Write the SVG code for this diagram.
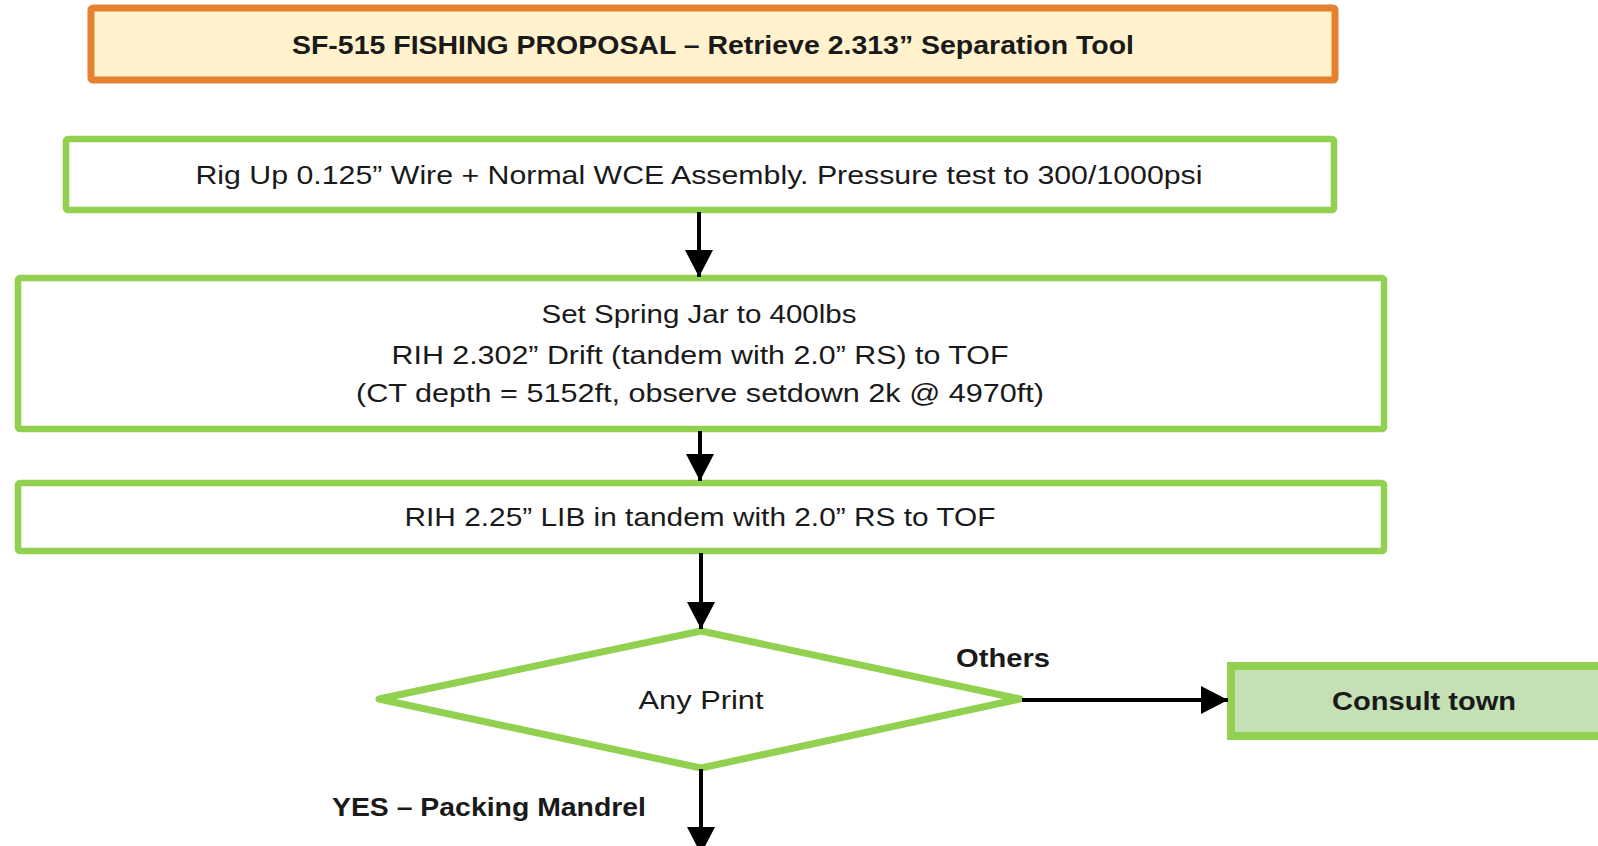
<svg xmlns="http://www.w3.org/2000/svg" width="1598" height="846" viewBox="0 0 1598 846">
<style>
.t{font-family:"Liberation Sans",Arial,sans-serif;font-size:26px;fill:#1a1a1a;text-anchor:middle}
.b{font-weight:bold;font-size:26px}
.box{fill:#ffffff;stroke:#92D050;stroke-width:6.5}
.c{stroke:#000;stroke-width:4;fill:none}
</style>
<defs>
<marker id="ah" markerUnits="userSpaceOnUse" markerWidth="28" markerHeight="28" refX="27" refY="14" orient="auto">
<path d="M0,0 L27,14 L0,28 Z" fill="#000"/>
</marker>
</defs>
<rect width="1598" height="846" fill="#ffffff"/>
<g id="title">
<rect x="91" y="8" width="1244" height="72" rx="2" fill="#FFF2CC" stroke="#E5822F" stroke-width="7"/>
<text class="t b" x="713" y="54" textLength="842" lengthAdjust="spacingAndGlyphs">SF-515 FISHING PROPOSAL – Retrieve 2.313” Separation Tool</text>
</g>
<g id="rigup">
<rect class="box" x="66" y="139" width="1268" height="71" rx="2"/>
<text class="t" x="699" y="184" textLength="1007" lengthAdjust="spacingAndGlyphs">Rig Up 0.125” Wire + Normal WCE Assembly. Pressure test to 300/1000psi</text>
</g>
<g id="drift">
<rect class="box" x="18" y="278" width="1366" height="151" rx="2"/>
<text class="t" x="699" y="323" textLength="315" lengthAdjust="spacingAndGlyphs">Set Spring Jar to 400lbs</text>
<text class="t" x="700" y="364" textLength="617" lengthAdjust="spacingAndGlyphs">RIH 2.302” Drift (tandem with 2.0” RS) to TOF</text>
<text class="t" x="700" y="402" textLength="688" lengthAdjust="spacingAndGlyphs">(CT depth = 5152ft, observe setdown 2k @ 4970ft)</text>
</g>
<g id="lib">
<rect class="box" x="18" y="483" width="1366" height="68" rx="2"/>
<text class="t" x="700" y="526" textLength="591" lengthAdjust="spacingAndGlyphs">RIH 2.25” LIB in tandem with 2.0” RS to TOF</text>
</g>
<g id="anyprint">
<polygon points="701,631 1020,699 701,768 379,699" fill="#ffffff" stroke="#92D050" stroke-width="7" stroke-linejoin="round"/>
<text class="t" x="701" y="709" textLength="125" lengthAdjust="spacingAndGlyphs">Any Print</text>
</g>
<g id="consult">
<rect x="1231" y="666" width="380" height="70" fill="#C5E0B4" stroke="#92D050" stroke-width="8"/>
<text class="t b" x="1424" y="710" textLength="184" lengthAdjust="spacingAndGlyphs">Consult town</text>
</g>
<g id="connectors">
<line class="c" x1="699" y1="212" x2="699" y2="277" marker-end="url(#ah)"/>
<line class="c" x1="700" y1="431" x2="700" y2="481" marker-end="url(#ah)"/>
<line class="c" x1="701" y1="553" x2="701" y2="629" marker-end="url(#ah)"/>
<line class="c" x1="1022" y1="700" x2="1228" y2="700" marker-end="url(#ah)"/>
<line class="c" x1="701" y1="769" x2="701" y2="854" marker-end="url(#ah)"/>
<text class="t b" x="1003" y="667" textLength="94" lengthAdjust="spacingAndGlyphs">Others</text>
<text class="t b" x="489" y="816" textLength="314" lengthAdjust="spacingAndGlyphs">YES – Packing Mandrel</text>
</g>
</svg>
